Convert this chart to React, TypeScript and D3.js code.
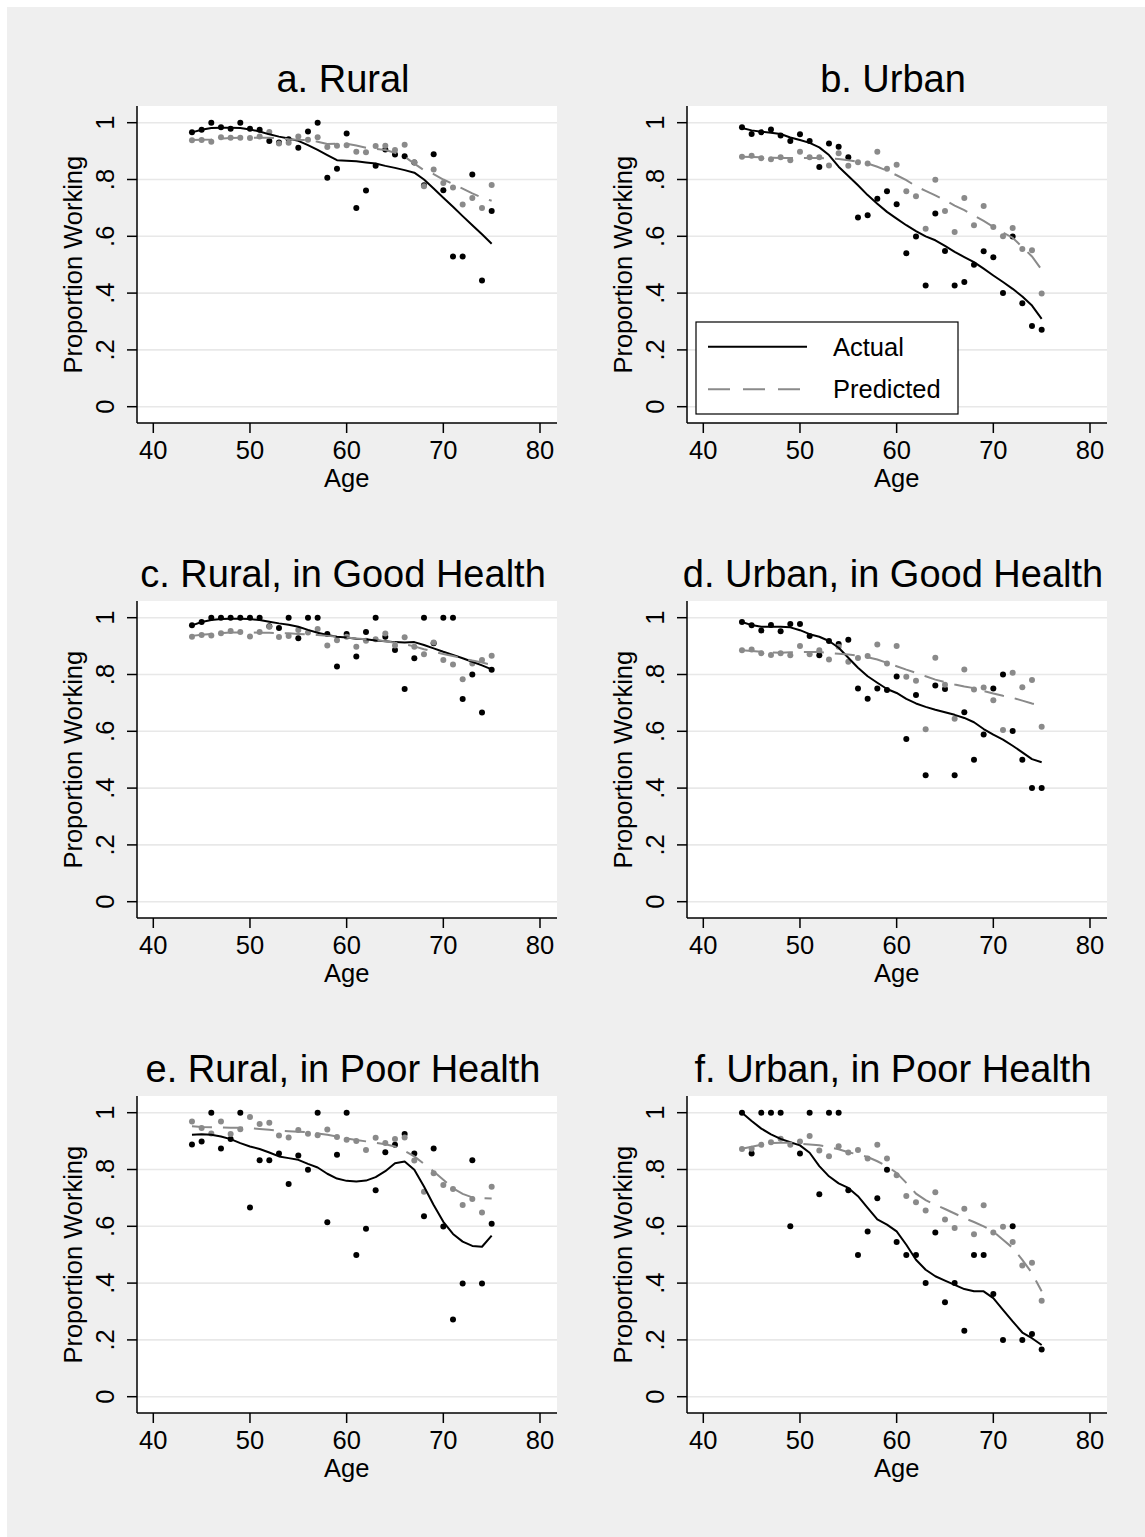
import React from 'react';
import * as d3 from 'd3';

// ages on the x axis (one point per year)
const ages = [44, 45, 46, 47, 48, 49, 50, 51, 52, 53, 54, 55, 56, 57, 58, 59, 60, 61, 62, 63, 64, 65, 66, 67, 68, 69, 70, 71, 72, 73, 74, 75];

const xTicks = [40, 50, 60, 70, 80];
const yTicks = [0, 0.2, 0.4, 0.6, 0.8, 1];
const yTickLabels = ['0', '.2', '.4', '.6', '.8', '1'];

const panelTitles = ['a. Rural', 'b. Urban', 'c. Rural, in Good Health', 'd. Urban, in Good Health', 'e. Rural, in Poor Health', 'f. Urban, in Poor Health'];

// a. Rural
const ruralActual = [0.966, 0.975, 1.0, 0.984, 0.979, 1.0, 0.979, 0.975, 0.936, 0.93, 0.942, 0.912, 0.969, 1.0, 0.806, 0.838, 0.962, 0.7, 0.761, 0.848, 0.906, 0.888, 0.882, 0.86, 0.78, 0.889, 0.762, 0.529, 0.529, 0.818, 0.444, 0.689];
const ruralPredicted = [0.938, 0.939, 0.933, 0.949, 0.947, 0.947, 0.946, 0.951, 0.967, 0.927, 0.929, 0.951, 0.94, 0.949, 0.914, 0.919, 0.921, 0.898, 0.896, 0.918, 0.919, 0.904, 0.922, 0.861, 0.776, 0.835, 0.788, 0.772, 0.712, 0.735, 0.7, 0.781];
const ruralActualFit = [0.966, 0.975, 0.981, 0.982, 0.982, 0.981, 0.976, 0.969, 0.959, 0.951, 0.944, 0.936, 0.921, 0.904, 0.886, 0.868, 0.866, 0.864, 0.86, 0.856, 0.848, 0.841, 0.833, 0.824, 0.8, 0.768, 0.736, 0.704, 0.671, 0.639, 0.607, 0.574];
const ruralPredictedFit = [0.939, 0.94, 0.941, 0.944, 0.946, 0.947, 0.947, 0.947, 0.947, 0.945, 0.942, 0.94, 0.939, 0.933, 0.925, 0.926, 0.926, 0.92, 0.912, 0.908, 0.904, 0.894, 0.88, 0.856, 0.833, 0.819, 0.8, 0.784, 0.768, 0.751, 0.736, 0.725];

// b. Urban
const urbanActual = [0.984, 0.96, 0.966, 0.976, 0.955, 0.936, 0.959, 0.936, 0.844, 0.927, 0.915, 0.878, 0.666, 0.674, 0.732, 0.759, 0.713, 0.54, 0.599, 0.427, 0.68, 0.548, 0.427, 0.439, 0.5, 0.547, 0.526, 0.4, 0.599, 0.364, 0.284, 0.271];
const urbanPredicted = [0.88, 0.884, 0.875, 0.871, 0.878, 0.868, 0.898, 0.878, 0.878, 0.849, 0.892, 0.848, 0.861, 0.856, 0.898, 0.838, 0.852, 0.759, 0.741, 0.627, 0.799, 0.689, 0.615, 0.735, 0.639, 0.707, 0.633, 0.6, 0.629, 0.555, 0.551, 0.399];
const urbanActualFit = [0.981, 0.973, 0.968, 0.965, 0.96, 0.948, 0.939, 0.929, 0.913, 0.886, 0.845, 0.812, 0.78, 0.745, 0.715, 0.686, 0.662, 0.639, 0.618, 0.6, 0.586, 0.566, 0.545, 0.527, 0.509, 0.486, 0.462, 0.439, 0.415, 0.388, 0.356, 0.309];
const urbanPredictedFit = [0.88, 0.879, 0.878, 0.877, 0.876, 0.876, 0.876, 0.876, 0.876, 0.874, 0.872, 0.868, 0.862, 0.856, 0.845, 0.831, 0.815, 0.798, 0.776, 0.76, 0.744, 0.727, 0.708, 0.692, 0.673, 0.654, 0.633, 0.613, 0.595, 0.562, 0.529, 0.482];

// c. Rural, in Good Health
const ruralGoodActual = [0.973, 0.985, 1.0, 1.0, 1.0, 1.0, 1.0, 1.0, 0.97, 0.964, 1.0, 0.928, 1.0, 1.0, 0.943, 0.828, 0.943, 0.863, 0.95, 1.0, 0.933, 0.886, 0.749, 0.857, 1.0, 0.91, 1.0, 1.0, 0.714, 0.8, 0.666, 0.817];
const ruralGoodPredicted = [0.933, 0.939, 0.937, 0.945, 0.953, 0.95, 0.934, 0.95, 0.968, 0.932, 0.936, 0.957, 0.948, 0.96, 0.902, 0.921, 0.933, 0.898, 0.919, 0.924, 0.944, 0.902, 0.931, 0.898, 0.871, 0.913, 0.851, 0.835, 0.783, 0.839, 0.851, 0.866];
const ruralGoodActualFit = [0.973, 0.985, 0.992, 0.995, 0.996, 0.996, 0.995, 0.992, 0.986, 0.98, 0.975, 0.968, 0.957, 0.947, 0.939, 0.933, 0.93, 0.926, 0.924, 0.92, 0.917, 0.914, 0.913, 0.914, 0.904, 0.892, 0.88, 0.869, 0.857, 0.845, 0.832, 0.818];
const ruralGoodPredictedFit = [0.936, 0.94, 0.943, 0.946, 0.948, 0.948, 0.948, 0.947, 0.947, 0.946, 0.945, 0.943, 0.941, 0.939, 0.936, 0.933, 0.93, 0.927, 0.924, 0.921, 0.917, 0.912, 0.907, 0.899, 0.889, 0.881, 0.872, 0.865, 0.857, 0.849, 0.842, 0.834];

// d. Urban, in Good Health
const urbanGoodActual = [0.985, 0.973, 0.955, 0.974, 0.952, 0.978, 0.978, 0.936, 0.868, 0.918, 0.907, 0.922, 0.751, 0.715, 0.751, 0.745, 0.793, 0.573, 0.728, 0.445, 0.761, 0.749, 0.445, 0.667, 0.5, 0.589, 0.751, 0.8, 0.601, 0.5, 0.4, 0.4];
const urbanGoodPredicted = [0.885, 0.888, 0.875, 0.869, 0.875, 0.868, 0.9, 0.871, 0.885, 0.853, 0.898, 0.845, 0.858, 0.865, 0.906, 0.839, 0.9, 0.792, 0.778, 0.607, 0.859, 0.764, 0.644, 0.818, 0.747, 0.754, 0.709, 0.605, 0.806, 0.755, 0.781, 0.616];
const urbanGoodActualFit = [0.985, 0.974, 0.968, 0.968, 0.968, 0.966, 0.956, 0.942, 0.933, 0.918, 0.894, 0.859, 0.824, 0.794, 0.771, 0.749, 0.735, 0.714, 0.698, 0.686, 0.676, 0.667, 0.658, 0.647, 0.632, 0.608, 0.588, 0.571, 0.549, 0.526, 0.502, 0.491];
const urbanGoodPredictedFit = [0.885, 0.883, 0.88, 0.878, 0.877, 0.878, 0.879, 0.879, 0.879, 0.876, 0.873, 0.87, 0.867, 0.861, 0.853, 0.841, 0.829, 0.817, 0.806, 0.794, 0.782, 0.773, 0.765, 0.758, 0.752, 0.742, 0.733, 0.725, 0.718, 0.708, 0.698, 0.69];

// e. Rural, in Poor Health
const ruralPoorActual = [0.888, 0.899, 1.0, 0.874, 0.907, 1.0, 0.666, 0.833, 0.833, 0.856, 0.749, 0.849, 0.799, 1.0, 0.614, 0.852, 1.0, 0.499, 0.591, 0.727, 0.861, 0.887, 0.925, 0.856, 0.635, 0.874, 0.599, 0.272, 0.399, 0.833, 0.399, 0.609];
const ruralPoorPredicted = [0.969, 0.946, 0.927, 0.969, 0.925, 0.942, 0.985, 0.96, 0.965, 0.92, 0.913, 0.939, 0.926, 0.921, 0.941, 0.914, 0.905, 0.9, 0.869, 0.912, 0.893, 0.907, 0.913, 0.832, 0.722, 0.787, 0.745, 0.731, 0.675, 0.696, 0.649, 0.739];
const ruralPoorActualFit = [0.922, 0.924, 0.922, 0.916, 0.907, 0.893, 0.881, 0.872, 0.86, 0.846, 0.84, 0.834, 0.82, 0.807, 0.785, 0.768, 0.76, 0.758, 0.761, 0.773, 0.794, 0.822, 0.828, 0.799, 0.74, 0.675, 0.616, 0.573, 0.546, 0.531, 0.528, 0.567];
const ruralPoorPredictedFit = [0.952, 0.95, 0.949, 0.948, 0.947, 0.947, 0.946, 0.943, 0.94, 0.937, 0.935, 0.933, 0.931, 0.927, 0.922, 0.916, 0.909, 0.904, 0.899, 0.894, 0.889, 0.881, 0.866, 0.846, 0.82, 0.793, 0.764, 0.734, 0.714, 0.702, 0.699, 0.698];

// f. Urban, in Poor Health
const urbanPoorActual = [1.0, 0.856, 1.0, 1.0, 1.0, 0.6, 0.856, 1.0, 0.713, 1.0, 1.0, 0.727, 0.499, 0.582, 0.699, 0.799, 0.545, 0.499, 0.499, 0.4, 0.578, 0.333, 0.4, 0.232, 0.499, 0.499, 0.362, 0.2, 0.6, 0.2, 0.221, 0.166];
const urbanPoorPredicted = [0.872, 0.873, 0.887, 0.896, 0.908, 0.887, 0.899, 0.918, 0.867, 0.847, 0.882, 0.86, 0.869, 0.839, 0.887, 0.839, 0.78, 0.707, 0.685, 0.656, 0.72, 0.624, 0.594, 0.662, 0.572, 0.674, 0.578, 0.598, 0.545, 0.462, 0.472, 0.338];
const urbanPoorActualFit = [1.0, 0.971, 0.944, 0.924, 0.908, 0.896, 0.885, 0.859, 0.812, 0.776, 0.751, 0.735, 0.706, 0.665, 0.624, 0.606, 0.582, 0.535, 0.482, 0.447, 0.424, 0.409, 0.394, 0.379, 0.371, 0.371, 0.347, 0.306, 0.265, 0.226, 0.206, 0.182];
const urbanPoorPredictedFit = [0.873, 0.88, 0.887, 0.893, 0.894, 0.894, 0.891, 0.888, 0.885, 0.879, 0.871, 0.861, 0.853, 0.844, 0.829, 0.812, 0.788, 0.753, 0.715, 0.692, 0.676, 0.661, 0.645, 0.629, 0.615, 0.6, 0.582, 0.553, 0.524, 0.482, 0.435, 0.371];

const panels = [
  { actual: ruralActual, predicted: ruralPredicted, actualFit: ruralActualFit, predictedFit: ruralPredictedFit },
  { actual: urbanActual, predicted: urbanPredicted, actualFit: urbanActualFit, predictedFit: urbanPredictedFit },
  { actual: ruralGoodActual, predicted: ruralGoodPredicted, actualFit: ruralGoodActualFit, predictedFit: ruralGoodPredictedFit },
  { actual: urbanGoodActual, predicted: urbanGoodPredicted, actualFit: urbanGoodActualFit, predictedFit: urbanGoodPredictedFit },
  { actual: ruralPoorActual, predicted: ruralPoorPredicted, actualFit: ruralPoorActualFit, predictedFit: ruralPoorPredictedFit },
  { actual: urbanPoorActual, predicted: urbanPoorPredicted, actualFit: urbanPoorActualFit, predictedFit: urbanPoorPredictedFit },
];

const W = 1145;
const H = 1537;
const plotW = 420;
const plotH = 317;
const FONT = '"Liberation Sans", Arial, Helvetica, sans-serif';
const GREY = '#8a8a8a';

const x = d3.scaleLinear().domain([40, 80]).range([16.3, 403]);
const y = d3.scaleLinear().domain([0, 1]).range([300.7, 16.7]);

// lowess fits, joined point to point like Stata does
const line = d3.line<number>()
  .x((_, i) => x(ages[i]))
  .y(d => y(d));

function Panel({ idx }: { idx: number }) {
  const p = panels[idx];
  const col = idx % 2;
  const row = Math.floor(idx / 2);
  const left = 137 + 550 * col;
  const top = 106 + 495 * row;

  return (
    <g transform={`translate(${left},${top})`}>
      <text x={plotW / 2 - 4} y={-14} textAnchor="middle" fontSize={38}>{panelTitles[idx]}</text>
      <rect x={0} y={0} width={plotW} height={plotH} fill="#fff" />
      {/* gridlines */}
      {yTicks.map(t => (
        <line key={t} x1={0} x2={plotW} y1={y(t)} y2={y(t)} stroke="#e8e8e8" strokeWidth={1.6} />
      ))}
      {/* scatter */}
      {p.actual.map((v, i) => (
        <circle key={'a' + i} cx={x(ages[i])} cy={y(v)} r={3} fill="#000" />
      ))}
      {p.predicted.map((v, i) => (
        <circle key={'p' + i} cx={x(ages[i])} cy={y(v)} r={3} fill={GREY} />
      ))}
      {/* smoothed lines */}
      <path d={line(p.actualFit) || ''} fill="none" stroke="#000" strokeWidth={2} strokeLinejoin="round" />
      <path d={line(p.predictedFit) || ''} fill="none" stroke={GREY} strokeWidth={2} strokeDasharray="20,11" />
      {/* axes */}
      <line x1={0} x2={0} y1={0} y2={plotH} stroke="#000" strokeWidth={1.5} />
      <line x1={0} x2={plotW} y1={plotH} y2={plotH} stroke="#000" strokeWidth={1.5} />
      {yTicks.map((t, i) => (
        <g key={t}>
          <line x1={-10} x2={0} y1={y(t)} y2={y(t)} stroke="#000" strokeWidth={1.5} />
          <text transform={`translate(-23,${y(t)}) rotate(-90)`} textAnchor="middle" fontSize={25.5}>{yTickLabels[i]}</text>
        </g>
      ))}
      {xTicks.map(t => (
        <g key={t}>
          <line x1={x(t)} x2={x(t)} y1={plotH} y2={plotH + 10} stroke="#000" strokeWidth={1.5} />
          <text x={x(t)} y={plotH + 36} textAnchor="middle" fontSize={25.5}>{t}</text>
        </g>
      ))}
      <text x={x(60)} y={plotH + 64} textAnchor="middle" fontSize={25.5}>Age</text>
      <text transform={`translate(-55,${(y(0) + y(1)) / 2}) rotate(-90)`} textAnchor="middle" fontSize={25.5}>Proportion Working</text>
      {idx === 1 && (
        <g>
          <rect x={9} y={216} width={262} height={92} fill="#fff" stroke="#000" strokeWidth={1.2} />
          <line x1={21} x2={120} y1={240.7} y2={240.7} stroke="#000" strokeWidth={2} />
          <line x1={21} x2={120} y1={283.3} y2={283.3} stroke={GREY} strokeWidth={2} strokeDasharray="22,13" />
          <text x={146} y={249.5} fontSize={25.5}>Actual</text>
          <text x={146} y={292} fontSize={25.5}>Predicted</text>
        </g>
      )}
    </g>
  );
}

export default function App() {
  return (
    <svg
      width={W}
      height={H}
      viewBox={`0 0 ${W} ${H}`}
      style={{ position: 'absolute', left: 0, top: 0, fontFamily: FONT }}
      fill="#000"
    >
      <rect x={0} y={0} width={W} height={H} fill="#fff" />
      <rect x={7} y={7} width={W - 7} height={H - 7} fill="#efefef" />
      {panels.map((_, i) => <Panel key={i} idx={i} />)}
    </svg>
  );
}
